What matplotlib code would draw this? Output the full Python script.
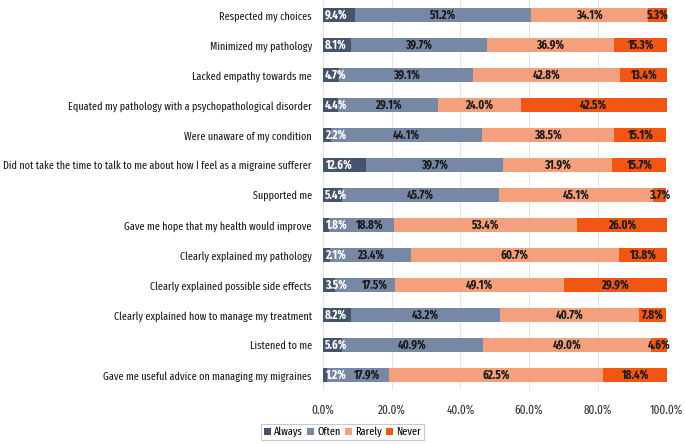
import matplotlib
matplotlib.use("Agg")
import matplotlib.pyplot as plt
from matplotlib import font_manager
import numpy as np

categories = [
    "Respected my choices",
    "Minimized my pathology",
    "Lacked empathy towards me",
    "Equated my pathology with a psychopathological disorder",
    "Were unaware of my condition",
    "Did not take the time to talk to me about how I feel as a migraine sufferer",
    "Supported me",
    "Gave me hope that my health would improve",
    "Clearly explained my pathology",
    "Clearly explained possible side effects",
    "Clearly explained how to manage my treatment",
    "Listened to me",
    "Gave me useful advice on managing my migraines",
]
always = [9.4, 8.1, 4.7, 4.4, 2.2, 12.6, 5.4, 1.8, 2.1, 3.5, 8.2, 5.6, 1.2]
often = [51.2, 39.7, 39.1, 29.1, 44.1, 39.7, 45.7, 18.8, 23.4, 17.5, 43.2, 40.9, 17.9]
rarely = [34.1, 36.9, 42.8, 24.0, 38.5, 31.9, 45.1, 53.4, 60.7, 49.1, 40.7, 49.0, 62.5]
never = [5.3, 15.3, 13.4, 42.5, 15.1, 15.7, 3.7, 26.0, 13.8, 29.9, 7.8, 4.6, 18.4]
series_names = ["Always", "Often", "Rarely", "Never"]
xticks = [0, 20, 40, 60, 80, 100]

names = {f.name for f in font_manager.fontManager.ttflist}
fam = "Carlito"
for cand in ["Fira Sans Extra Condensed", "Fira Sans Condensed", "Asap Condensed"]:
    if cand in names:
        fam = cand
        break
plt.rcParams["font.family"] = [fam, "DejaVu Sans"]

colors = ["#44546A", "#7688A6", "#F5A07C", "#F25614"]
text_colors = ["white", "#1A1A1A", "#1A1A1A", "#1A1A1A"]

fig = plt.figure(figsize=(6.85, 4.44), dpi=100)

# fit font size so the longest label is ~310 px wide (as in the reference)
renderer = fig.canvas.get_renderer()
probe = fig.text(0, 0, categories[5], fontsize=10)
w = probe.get_window_extent(renderer).width
probe.remove()
fs = 10 * 310.0 / w
fs = min(fs, 11.5)
vfs = fs * 1.07
tfs = fs * 1.1

ax = fig.add_axes([0.4715, 0.1216, 0.5015, 0.8784])

y = np.arange(len(categories))
data = [always, often, rarely, never]
left = np.zeros(len(categories))
for i, (vals, c) in enumerate(zip(data, colors)):
    vals = np.array(vals)
    ax.barh(y, vals, left=left, height=0.47, color=c, label=series_names[i], zorder=3)
    for j, v in enumerate(vals):
        if i == 0:
            ax.text(left[j] + 0.6, y[j], f"{v:.1f}%", ha="left", va="center",
                    color=text_colors[i], fontsize=vfs, fontweight="bold", zorder=4)
        else:
            cx = left[j] + v / 2
            if i == 1:
                cx = max(cx, always[j] + 11.5)
            if i == 3:
                cx = min(cx, 98.2)
            ax.text(cx, y[j], f"{v:.1f}%", ha="center", va="center",
                    color=text_colors[i], fontsize=vfs, fontweight="bold", zorder=4)
    left = left + vals

ax.set_ylim(len(categories) - 0.5, -0.5)
ax.set_xlim(0, 100)
ax.set_yticks(y)
ax.set_yticklabels(categories, fontsize=fs, color="#1A1A1A")
ax.set_xticks(xticks)
ax.set_xticklabels([f"{t:.1f}%" for t in xticks], fontsize=tfs, color="#333333")
ax.tick_params(axis="both", length=0)
ax.tick_params(axis="x", pad=10)
ax.tick_params(axis="y", pad=8)
for s in ax.spines.values():
    s.set_visible(False)
ax.grid(axis="x", color="#E4E4E4", linewidth=0.8, zorder=0)
ax.axvline(0, color="#DDDDDD", linewidth=0.8, zorder=1)

leg = fig.legend(loc="center", bbox_to_anchor=(0.5, 0.027), ncol=4, fontsize=fs,
                 frameon=True, handlelength=0.6, handleheight=0.6, handletextpad=0.3,
                 columnspacing=0.4, borderpad=0.25, fancybox=False)
leg.get_frame().set_edgecolor("#BBBBBB")
leg.get_frame().set_linewidth(0.8)

fig.savefig("out.png", dpi=100)
